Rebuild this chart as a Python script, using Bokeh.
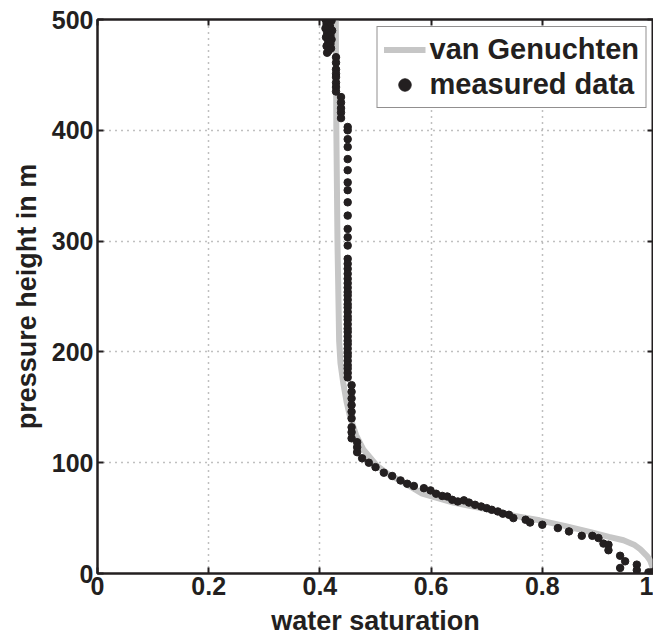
from bokeh.plotting import figure
from bokeh.models import LinearAxis, Legend, LegendItem, FixedTicker, Range1d
from bokeh.embed import file_html
from bokeh.resources import INLINE

# van Genuchten fitted curve
vg_sat = [0.4286, 0.4296, 0.4316, 0.4346, 0.437, 0.442, 0.448, 0.454, 0.465, 0.478,
          0.503, 0.525, 0.551, 0.584, 0.64, 0.705, 0.75, 0.795, 0.84, 0.885,
          0.92, 0.946, 0.965, 0.976, 0.988, 0.994, 0.998, 1.0]
vg_height = [500, 400, 300, 210, 190, 172, 155, 142, 125, 112,
             97, 89, 82, 72, 64, 57.5, 52, 48, 43, 37.5,
             33, 30, 26, 22, 16, 11.7, 6, 0]

meas_sat = [0.410, 0.416, 0.421, 0.412, 0.418, 0.410, 0.422, 0.413, 0.419, 0.411,
            0.421, 0.415, 0.419, 0.412, 0.420, 0.416, 0.413,
            0.429, 0.429, 0.429, 0.429, 0.429, 0.429, 0.429, 0.429,
            0.438, 0.438, 0.438, 0.438, 0.438,
            0.450, 0.450, 0.450, 0.450, 0.450, 0.450, 0.450, 0.450, 0.450, 0.450,
            0.450, 0.450, 0.450, 0.450, 0.450, 0.450, 0.450, 0.450,
            0.450, 0.450, 0.450, 0.450, 0.450, 0.450, 0.450, 0.450, 0.450, 0.450,
            0.450, 0.450, 0.450, 0.450, 0.450, 0.450, 0.450, 0.450, 0.450, 0.450,
            0.450, 0.450, 0.450, 0.450,
            0.457, 0.457, 0.457, 0.457, 0.457, 0.457, 0.457, 0.457, 0.457,
            0.467, 0.467, 0.467,
            0.476, 0.488, 0.500, 0.515, 0.530, 0.545, 0.557, 0.569, 0.587, 0.599,
            0.609, 0.620, 0.629, 0.638, 0.648, 0.659, 0.668, 0.679, 0.690, 0.700,
            0.709, 0.720, 0.729, 0.740, 0.748, 0.770, 0.778, 0.800, 0.828, 0.848,
            0.871, 0.890, 0.901, 0.910, 0.919, 0.919, 0.940, 0.949, 0.940, 0.970,
            0.970, 0.991, 0.996, 1.000]
meas_height = [500, 500, 499, 496, 494, 492, 490, 488, 486, 484,
               482, 480, 478, 476, 474, 472, 470,
               466, 461, 455, 451, 448, 443, 439, 435,
               430, 425, 420, 416, 411,
               403, 400, 392, 385, 374, 364, 353, 346, 335, 323,
               311, 303.5, 296, 284, 279.5, 275, 270.5, 266,
               262, 258, 254, 251, 247, 243, 240, 236, 232, 229,
               225, 221, 218, 214, 210, 207, 203, 199, 196, 192,
               188, 185, 181, 177,
               170, 164, 158, 152, 146, 140, 132, 127.5, 122,
               118.5, 114, 109.5,
               104, 100, 96, 91, 88, 84, 81, 79, 77, 75,
               72, 70, 69.5, 66.5, 65, 66, 64, 62, 60.5, 59,
               57.5, 56, 54, 53, 50, 48.5, 46, 44, 41, 38,
               34, 34, 32, 27, 26, 21, 16, 11, 5, 8,
               3, 1, 1, 1]

x_ticks = [0, 0.2, 0.4, 0.6, 0.8, 1]
y_ticks = [0, 100, 200, 300, 400, 500]
x_label = "water saturation"
y_label = "pressure height in m"

FONT = "Liberation Sans"
INK = "#231f20"

p = figure(width=653, height=642, output_backend="svg", toolbar_location=None,
           x_range=Range1d(0, 1), y_range=Range1d(0, 500),
           min_border_left=97, min_border_right=0, min_border_top=19, min_border_bottom=69)

vg = p.line(vg_sat, vg_height, line_color="#c6c6c6", line_width=6)
md = p.scatter(meas_sat, meas_height, size=7.5, fill_color=INK, line_color=INK)


def style_ticks(ax):
    ax.axis_line_width = 2
    ax.axis_line_color = INK
    ax.major_tick_in = 6
    ax.major_tick_out = 0
    ax.major_tick_line_width = 2
    ax.major_tick_line_color = INK
    ax.minor_tick_line_color = None


for ax in (p.xaxis[0], p.yaxis[0]):
    style_ticks(ax)
    ax.major_label_text_font = FONT
    ax.major_label_text_font_style = "bold"
    ax.major_label_text_font_size = "25px"
    ax.major_label_text_color = INK
    ax.axis_label_text_font = FONT
    ax.axis_label_text_font_style = "bold"
    ax.axis_label_text_font_size = "27px"
    ax.axis_label_text_color = INK

p.xaxis[0].ticker = FixedTicker(ticks=x_ticks)
p.yaxis[0].ticker = FixedTicker(ticks=y_ticks)
p.xaxis[0].major_label_overrides = {0: "0", 1: "1"}
p.xaxis[0].axis_label = x_label
p.yaxis[0].axis_label = y_label
p.xaxis[0].major_label_standoff = 3
p.yaxis[0].major_label_standoff = 4
p.xaxis[0].axis_label_standoff = 8
p.yaxis[0].axis_label_standoff = 7

for loc, tk in (("above", x_ticks), ("right", y_ticks)):
    ax = LinearAxis(ticker=FixedTicker(ticks=tk))
    style_ticks(ax)
    ax.major_label_text_color = None
    ax.major_label_text_font_size = "1px"
    ax.major_label_standoff = 0
    p.add_layout(ax, loc)

p.outline_line_color = INK
p.outline_line_width = 2

for g in (p.xgrid[0], p.ygrid[0]):
    g.grid_line_color = "#808080"
    g.grid_line_dash = "1 5"
    g.grid_line_width = 1.5
p.xgrid[0].ticker = FixedTicker(ticks=x_ticks)
p.ygrid[0].ticker = FixedTicker(ticks=y_ticks)

legend = Legend(items=[LegendItem(label="van Genuchten", renderers=[vg]),
                       LegendItem(label="measured data", renderers=[md])],
                location="top_right")
legend.label_text_font = FONT
legend.label_text_font_style = "bold"
legend.label_text_font_size = "29px"
legend.label_text_color = INK
legend.glyph_width = 42
legend.glyph_height = 31
legend.label_height = 31
legend.label_standoff = 4
legend.spacing = 2
legend.padding = 6
legend.margin = 7
legend.border_line_color = INK
legend.border_line_width = 1.5
legend.background_fill_color = "white"
legend.background_fill_alpha = 1
p.add_layout(legend)

open("out.html", "w").write(file_html(p, INLINE))
